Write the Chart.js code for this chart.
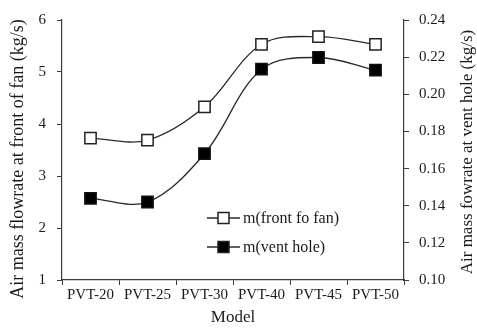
<!DOCTYPE html>
<html>
<head>
<meta charset="utf-8">
<script src="https://cdn.jsdelivr.net/npm/chart.js@4/dist/chart.umd.min.js"></script>
<style>
  html, body { margin: 0; padding: 0; background: #fff; }
  #wrap { width: 477px; height: 328px; }
</style>
</head>
<body>
<div id="wrap"><canvas id="grafico"></canvas></div>
<script>
// Modelos e vazões (kg/s)
const modelos = ['PVT-20', 'PVT-25', 'PVT-30', 'PVT-40', 'PVT-45', 'PVT-50'];
const vazaoFrente = [3.73, 3.69, 4.33, 5.53, 5.68, 5.53];
const vazaoRespiro = [0.144, 0.142, 0.168, 0.2135, 0.2198, 0.213];
const ticksEsquerda = [1, 2, 3, 4, 5, 6];
const ticksDireita = [0.10, 0.12, 0.14, 0.16, 0.18, 0.20, 0.22, 0.24];
const tituloEsquerda = 'Air mass flowrate at front of fan (kg/s)';
const tituloDireita = 'Air mass fowrate at vent hole (kg/s)';

const fonte = 'Liberation Serif, Times New Roman, serif';
const corTexto = '#1a1a1a';
const corEixo = '#3a3a3a';

// Legenda dentro da área do gráfico e títulos verticais (ambos lidos de baixo para cima)
const extras = {
    id: 'extras',
    afterDatasetsDraw(chart) {
        const ctx = chart.ctx;
        const area = chart.chartArea;
        const x0 = area.left + 145;
        const y0 = area.top + 198;
        chart.data.datasets.forEach((ds, i) => {
            const y = y0 + i * 29;
            ctx.save();
            ctx.strokeStyle = ds.borderColor;
            ctx.lineWidth = 1.3;
            ctx.beginPath();
            ctx.moveTo(x0, y);
            ctx.lineTo(x0 + 33, y);
            ctx.stroke();
            const s = 11;
            ctx.fillStyle = ds.pointBackgroundColor;
            ctx.fillRect(x0 + 16.5 - s / 2, y - s / 2, s, s);
            ctx.lineWidth = 1.5;
            ctx.strokeStyle = '#222';
            ctx.strokeRect(x0 + 16.5 - s / 2, y - s / 2, s, s);
            ctx.fillStyle = corTexto;
            ctx.font = '16px ' + fonte;
            ctx.textBaseline = 'middle';
            ctx.fillText(ds.label, x0 + 36, y + 1);
            ctx.restore();
        });

        const titulo = (texto, x, y, tam) => {
            ctx.save();
            ctx.translate(x, y);
            ctx.rotate(-Math.PI / 2);
            ctx.fillStyle = corTexto;
            ctx.font = tam + 'px ' + fonte;
            ctx.textAlign = 'center';
            ctx.textBaseline = 'middle';
            ctx.fillText(texto, 0, 0);
            ctx.restore();
        };
        titulo(tituloEsquerda, 18, area.top + 139, 18);
        titulo(tituloDireita, chart.width - 9, area.top + 132, 17);
    }
};

const ctxGrafico = document.getElementById('grafico');

new Chart(ctxGrafico, {
    type: 'line',
    data: {
        labels: modelos,
        datasets: [
            {
                label: 'm(front fo fan)',
                data: vazaoFrente,
                yAxisID: 'y',
                borderColor: '#2a2a2a',
                borderWidth: 1.3,
                pointStyle: 'rect',
                pointRadius: 8,
                pointBorderWidth: 1.5,
                pointBorderColor: '#222',
                pointBackgroundColor: '#fff',
                tension: 0.35
            },
            {
                label: 'm(vent hole)',
                data: vazaoRespiro,
                yAxisID: 'y2',
                borderColor: '#2a2a2a',
                borderWidth: 1.3,
                pointStyle: 'rect',
                pointRadius: 8,
                pointBorderWidth: 1.5,
                pointBorderColor: '#111',
                pointBackgroundColor: '#000',
                tension: 0.35
            }
        ]
    },
    options: {
        responsive: true,
        maintainAspectRatio: false,
        animation: false,
        layout: { padding: { top: 16 } },
        plugins: {
            legend: { display: false },
            tooltip: { enabled: false }
        },
        scales: {
            x: {
                offset: true,
                afterFit: (s) => { s.height = 48; },
                grid: {
                    offset: true,
                    drawOnChartArea: false,
                    tickLength: 5,
                    color: corEixo
                },
                border: { color: corEixo, width: 1.2 },
                ticks: {
                    color: corTexto,
                    font: { family: fonte, size: 15 },
                    padding: 1,
                    maxRotation: 0
                },
                title: {
                    display: true,
                    text: 'Model',
                    color: corTexto,
                    font: { family: fonte, size: 17 },
                    padding: { top: 0, bottom: 0 }
                }
            },
            y: {
                position: 'left',
                min: 1,
                max: 6,
                afterFit: (s) => { s.width = 62; },
                afterBuildTicks: (s) => { s.ticks = ticksEsquerda.map(v => ({ value: v })); },
                grid: {
                    drawOnChartArea: false,
                    tickLength: 5,
                    color: corEixo
                },
                border: { color: corEixo, width: 1.2 },
                ticks: {
                    color: corTexto,
                    font: { family: fonte, size: 15 },
                    padding: 11
                }
            },
            y2: {
                position: 'right',
                min: 0.10,
                max: 0.24,
                afterFit: (s) => { s.width = 73; },
                afterBuildTicks: (s) => { s.ticks = ticksDireita.map(v => ({ value: v })); },
                grid: {
                    drawOnChartArea: false,
                    tickLength: 5,
                    color: corEixo
                },
                border: { color: corEixo, width: 1.2 },
                ticks: {
                    color: corTexto,
                    font: { family: fonte, size: 15 },
                    padding: 10,
                    callback: (v) => Number(v).toFixed(2)
                }
            }
        }
    },
    plugins: [extras]
});
</script>
</body>
</html>
